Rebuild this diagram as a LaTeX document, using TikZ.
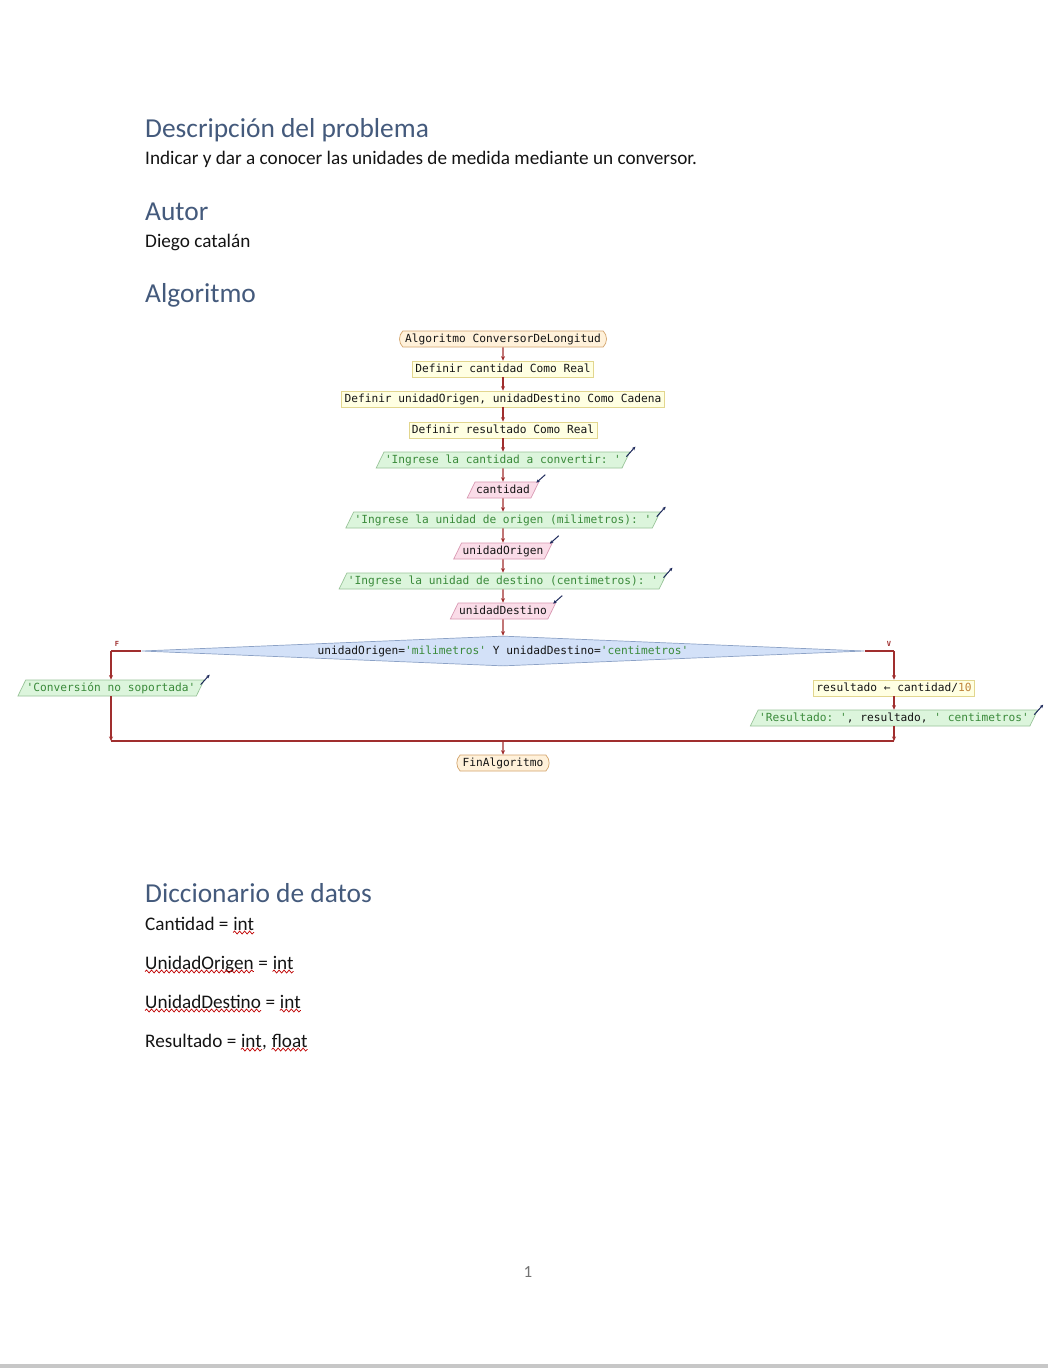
\documentclass[tikz,border=0pt]{standalone}
\usepackage{fontspec}
\setmainfont{Carlito}
\setmonofont{DejaVu Sans Mono}
\usetikzlibrary{shapes.geometric,shapes.misc,arrows.meta,decorations.pathmorphing}
\definecolor{headcol}{RGB}{68,90,124}
\definecolor{bodycol}{RGB}{20,20,20}
\definecolor{procfill}{HTML}{FFFFE2}
\definecolor{procdraw}{HTML}{E2D68E}
\definecolor{outfill}{HTML}{DCF5DC}
\definecolor{outdraw}{HTML}{98C498}
\definecolor{infill}{HTML}{FADCE8}
\definecolor{indraw}{HTML}{D898B2}
\definecolor{diafill}{HTML}{D3E1F8}
\definecolor{diadraw}{HTML}{8CA2C6}
\definecolor{termfill}{HTML}{FFF1DA}
\definecolor{termdraw}{HTML}{D2A46C}
\definecolor{arrowcol}{HTML}{A02E2E}
\definecolor{strcol}{HTML}{3A8A3A}
\definecolor{numcol}{HTML}{C0843C}
\definecolor{iconcol}{HTML}{1E2A5C}
\definecolor{fctext}{HTML}{151515}
\newcommand{\strtxt}[1]{\textcolor{strcol}{#1}}
\newcommand{\wsp}{\hspace*{0.226em}}
\begin{document}
\begin{tikzpicture}[x=1pt,y=-1pt,
  head/.style={font=\fontsize{27.4}{32}\selectfont, text=headcol, anchor=base west, inner sep=0pt},
  body/.style={font=\fontsize{19.2}{22}\selectfont, text=bodycol, anchor=base west, inner sep=0pt},
  fc/.style={font=\ttfamily\fontsize{11.2}{13}\selectfont, text=fctext, inner xsep=3pt, inner ysep=2pt, text height=9pt, text depth=3pt, line width=0.7pt},
  procbox/.style={fc, rectangle, draw=procdraw, fill=procfill},
  outbox/.style={fc, trapezium, trapezium left angle=64, trapezium right angle=116, draw=outdraw, fill=outfill, inner xsep=1pt},
  inbox/.style={fc, trapezium, trapezium left angle=64, trapezium right angle=116, draw=indraw, fill=infill, inner xsep=1pt},
  term/.style={fc, rounded rectangle, rounded rectangle arc length=90, draw=termdraw, fill=termfill, inner xsep=4pt},
  dia/.style={fc, diamond, aspect=24, inner sep=0pt, minimum width=723pt, minimum height=30pt, draw=diadraw, fill=diafill},
  flow/.style={draw=arrowcol, line width=1.1pt, -{Stealth[length=4.5pt,width=4pt]}},
  plain/.style={draw=arrowcol, line width=1.1pt},
  ioicon/.style={draw=iconcol, line width=1pt, -{Stealth[length=3.5pt,width=3.2pt]}},
  branchlbl/.style={font=\ttfamily\bfseries\fontsize{7}{8}\selectfont, text=arrowcol, inner sep=0pt},
  sq/.style={draw=red!75!black, line width=0.7pt, decorate, decoration={snake, amplitude=1.5pt, segment length=5pt}}
]
\useasboundingbox (0,0) rectangle (1048,1368);
\fill[white] (0,0) rectangle (1048,1368);
\fill[black!22] (0,1364) rectangle (1048,1368);

% ---------- text of the page ----------
\node[head] (h1) at (145,137) {Descripción del problema};
\node[body] (t1) at (145,164) {Indicar y dar a conocer las unidades de medida mediante un conversor.};
\node[head] (h2) at (145,220) {Autor};
\node[body] (t2) at (145,247) {Diego catalán};
\node[head] (h3) at (145,302) {Algoritmo};
\node[head] (h4) at (145,902) {Diccionario de datos};

\node[body] (c1a) at (145,930) {Cantidad =\wsp};
\node[body] (c1b) at (c1a.base east) {int};
\node[body] (c2a) at (145,969) {UnidadOrigen};
\node[body] (c2b) at (c2a.base east) {\wsp=\wsp};
\node[body] (c2c) at (c2b.base east) {int};
\node[body] (c3a) at (145,1008) {UnidadDestino};
\node[body] (c3b) at (c3a.base east) {\wsp=\wsp};
\node[body] (c3c) at (c3b.base east) {int};
\node[body] (c4a) at (145,1047) {Resultado =\wsp};
\node[body] (c4b) at (c4a.base east) {int};
\node[body] (c4c) at (c4b.base east) {,\wsp};
\node[body] (c4d) at (c4c.base east) {float};
\foreach \w in {c1b,c2a,c2c,c3a,c3c,c4b,c4d}{
  \draw[sq] ([yshift=-2.5pt]\w.base west) -- ([yshift=-2.5pt]\w.base east);
}
\node[font=\fontsize{17}{20}\selectfont, text=black!55, inner sep=0pt] (pg) at (528,1272) {1};

% ---------- flowchart ----------
\node[term] (start) at (503,339) {Algoritmo ConversorDeLongitud};
\node[procbox] (d1) at (503,369) {Definir cantidad Como Real};
\node[procbox] (d2) at (503,399) {Definir unidadOrigen, unidadDestino Como Cadena};
\node[procbox] (d3) at (503,430) {Definir resultado Como Real};
\node[outbox] (o1) at (503,460) {\strtxt{'Ingrese la cantidad a convertir: '}};
\node[inbox] (i1) at (503,490) {cantidad};
\node[outbox] (o2) at (503,520) {\strtxt{'Ingrese la unidad de origen (milimetros): '}};
\node[inbox] (i2) at (503,551) {unidadOrigen};
\node[outbox] (o3) at (503,581) {\strtxt{'Ingrese la unidad de destino (centimetros): '}};
\node[inbox] (i3) at (503,611) {unidadDestino};
\node[dia] (dia) at (503,651) {unidadOrigen=\strtxt{'milimetros'} Y unidadDestino=\strtxt{'centimetros'}};
\node[outbox] (oF) at (111,688) {\strtxt{'Conversión no soportada'}};
\node[procbox] (pR) at (894,688) {resultado ← cantidad/\textcolor{numcol}{10}};
\node[outbox] (oR) at (894,718) {\strtxt{'Resultado: '}, resultado, \strtxt{' centimetros'}};
\node[term] (fin) at (503,763) {FinAlgoritmo};

\node[branchlbl] (lF) at (117,644) {F};
\node[branchlbl] (lV) at (889,644) {V};

\coordinate (Ltop) at (111,651);
\coordinate (Rtop) at (894,651);
\coordinate (Lbot) at (111,741);
\coordinate (Rbot) at (894,741);
\coordinate (J) at (503,741);

\draw[flow] (start) -- (d1);
\draw[flow] (d1) -- (d2);
\draw[flow] (d2) -- (d3);
\draw[flow] (d3) -- (o1);
\draw[flow] (o1) -- (i1);
\draw[flow] (i1) -- (o2);
\draw[flow] (o2) -- (i2);
\draw[flow] (i2) -- (o3);
\draw[flow] (o3) -- (i3);
\draw[flow] (i3) -- (dia);
\draw[plain] (dia.west) -- (Ltop);
\draw[flow] (Ltop) -- (oF);
\draw[flow] (oF) -- (Lbot);
\draw[plain] (dia.east) -- (Rtop);
\draw[flow] (Rtop) -- (pR);
\draw[flow] (pR) -- (oR);
\draw[flow] (oR) -- (Rbot);
\draw[plain] (Lbot) -- (Rbot);
\draw[flow] (J) -- (fin);

% output / input icons
\foreach \n in {o1,o2,o3,oF,oR}{
  \draw[ioicon] ([xshift=-4pt,yshift=-5pt]\n.top right corner) -- ++(9,-10);
}
\foreach \n in {i1,i2,i3}{
  \draw[ioicon] ([xshift=6pt,yshift=7pt]\n.top right corner) -- ++(-9,8);
}
\end{tikzpicture}
\end{document}
